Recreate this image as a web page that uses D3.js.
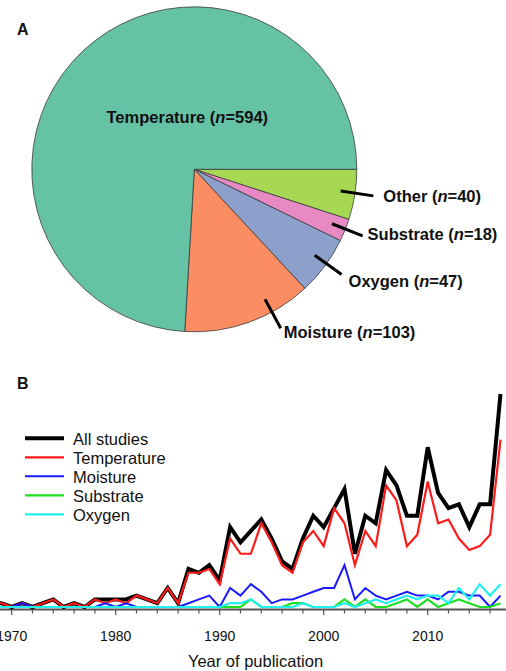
<!DOCTYPE html>
<html>
<head>
<meta charset="utf-8">
<script src="https://cdn.jsdelivr.net/npm/d3@7"></script>
<style>
  body { margin: 0; background: #fff; }
  text { font-family: Arial, "Liberation Sans", sans-serif; fill: #111; }
</style>
</head>
<body>
<svg id="chart" width="506" height="671"></svg>
<script>
// panel A data, clockwise from 3 o'clock
var pieNames = ["Other", "Substrate", "Oxygen", "Moisture", "Temperature"];
var pieCounts = [40, 18, 47, 103, 594];
var pieColors = ["#a6d854", "#e78ac3", "#8da0cb", "#fc8d62", "#66c2a5"];

// panel B data
var years = [1968, 1969, 1970, 1971, 1972, 1973, 1974, 1975, 1976, 1977,
             1978, 1979, 1980, 1981, 1982, 1983, 1984, 1985, 1986, 1987,
             1988, 1989, 1990, 1991, 1992, 1993, 1994, 1995, 1996, 1997,
             1998, 1999, 2000, 2001, 2002, 2003, 2004, 2005, 2006, 2007,
             2008, 2009, 2010, 2011, 2012, 2013, 2014, 2015, 2016, 2017];
var allStudies  = [1, 1, 0, 1, 0, 1, 2, 0, 1, 0, 2, 2, 2, 2, 3, 2, 1, 5, 1, 10,
                   9, 11, 7, 21, 17, 20, 23, 18, 12, 10, 18, 24, 21, 26, 31, 14, 24, 22, 36, 32,
                   24, 24, 42, 30, 26, 27, 21, 27, 27, 56];
var temperature = [1, 1, 0, 1, 0, 1, 2, 0, 1, 0, 2, 1, 2, 1, 3, 2, 1, 5, 1, 9,
                   9, 10, 6, 18, 14, 14, 22, 17, 11, 9, 17, 20, 16, 26, 22, 11, 20, 16, 32, 28,
                   16, 19, 33, 22, 23, 18, 15, 16, 19, 44];
var moisture    = [0, 0, 0, 1, 0, 0, 0, 0, 0, 0, 0, 1, 0, 1, 0, 0, 0, 0, 0, 1,
                   2, 3, 0, 5, 3, 6, 4, 1, 2, 2, 3, 4, 5, 5, 11, 2, 5, 3, 2, 3,
                   4, 3, 3, 2, 4, 4, 3, 3, 0, 3];
var substrate   = [0, 0, 0, 0, 0, 0, 0, 0, 0, 0, 0, 0, 0, 0, 0, 0, 0, 0, 0, 0,
                   0, 0, 0, 0, 0, 2, 0, 0, 0, 1, 1, 0, 0, 0, 2, 0, 2, 0, 0, 1,
                   2, 0, 2, 0, 1, 2, 1, 0, 0, 1];
var oxygen      = [0, 0, 0, 0, 0, 0, 0, 0, 0, 0, 0, 0, 0, 0, 0, 0, 0, 0, 0, 0,
                   0, 0, 0, 1, 1, 2, 0, 0, 0, 0, 1, 0, 0, 0, 1, 0, 1, 2, 1, 2,
                   3, 2, 3, 3, 1, 5, 2, 6, 3, 6];
var seriesNames = ["All studies", "Temperature", "Moisture", "Substrate", "Oxygen"];
var seriesColors = ["#000000", "#ff1a1a", "#1a1aff", "#1ee01e", "#22f0f0"];
var seriesWidths = [4, 2.2, 2, 2.2, 2.2];
var tickYears = [1970, 1980, 1990, 2000, 2010];

var svg = d3.select("#chart");
svg.append("rect").attr("width", 506).attr("height", 671).attr("fill", "#fff");

// ---------- panel A: pie ----------
var cx = 194.3, cy = 169.3, radius = 162.5;
var pie = d3.pie().sort(null)
  .startAngle(Math.PI / 2)
  .endAngle(Math.PI / 2 + 2 * Math.PI);
var arc = d3.arc().innerRadius(0).outerRadius(radius);
var slices = pie(pieCounts);

var gPie = svg.append("g").attr("transform", "translate(" + cx + "," + cy + ")");
gPie.selectAll("path")
  .data(slices)
  .enter().append("path")
  .attr("d", arc)
  .attr("fill", function(d, i) { return pieColors[i]; })
  .attr("stroke", "#3a3a3a")
  .attr("stroke-width", 0.8);

svg.append("text")
  .attr("x", 17).attr("y", 35)
  .style("font-size", "16px").style("font-weight", "bold")
  .text("A");

function pieLabel(sel, name, n) {
  sel.style("font-size", "16.5px").style("font-weight", "bold");
  sel.append("tspan").text(name + " (");
  sel.append("tspan").style("font-style", "italic").text("n");
  sel.append("tspan").text("=" + n + ")");
}

// temperature label sits inside its slice
gPie.append("text")
  .attr("x", -7).attr("y", -46)
  .attr("text-anchor", "middle")
  .call(pieLabel, pieNames[4], pieCounts[4]);

// leader lines for the small slices
var leaderFrac = [0.47, 0.45, 0.45, 0.31];
var labelDx = [10, 5, 7, 3];
var labelDy = [6, 4, 13, 10];
function polar(a, r) { return [r * Math.sin(a), -r * Math.cos(a)]; }

slices.slice(0, 4).forEach(function(d, i) {
  var a = d.startAngle + leaderFrac[i] * (d.endAngle - d.startAngle);
  var p0 = polar(a, 148), p1 = polar(a, 181);
  gPie.append("line")
    .attr("x1", p0[0]).attr("y1", p0[1])
    .attr("x2", p1[0]).attr("y2", p1[1])
    .attr("stroke", "#000").attr("stroke-width", 3);
  gPie.append("text")
    .attr("x", p1[0] + labelDx[i]).attr("y", p1[1] + labelDy[i])
    .call(pieLabel, pieNames[i], pieCounts[i]);
});

// ---------- panel B: lines ----------
svg.append("text")
  .attr("x", 17).attr("y", 389)
  .style("font-size", "16px").style("font-weight", "bold")
  .text("B");

var x = d3.scaleLinear().domain([1970, 2010]).range([11.7, 427.7]);
var y = d3.scaleLinear().domain([0, 56]).range([607, 394]);
var axisY = 609.5;

var gAxis = svg.append("g");
gAxis.append("line")
  .attr("x1", 0).attr("x2", 506)
  .attr("y1", axisY).attr("y2", axisY)
  .attr("stroke", "#555").attr("stroke-width", 2);

var minorTicks = years.filter(function(yr) { return yr % 2 === 0; });
gAxis.selectAll(".tick")
  .data(minorTicks)
  .enter().append("line")
  .attr("class", "tick")
  .attr("x1", function(d) { return x(d); })
  .attr("x2", function(d) { return x(d); })
  .attr("y1", axisY)
  .attr("y2", function(d) { return d % 10 === 0 ? axisY + 5.5 : axisY + 4; })
  .attr("stroke", "#555").attr("stroke-width", 1.2);

gAxis.selectAll(".lbl")
  .data(tickYears)
  .enter().append("text")
  .attr("class", "lbl")
  .attr("x", function(d) { return x(d); })
  .attr("y", 641)
  .attr("text-anchor", "middle")
  .style("font-size", "14px")
  .text(function(d) { return d; });

svg.append("text")
  .attr("x", 255.5).attr("y", 666.5)
  .attr("text-anchor", "middle")
  .style("font-size", "16.5px")
  .text("Year of publication");

var seriesData = [allStudies, temperature, moisture, substrate, oxygen];
var line = d3.line()
  .x(function(d, i) { return x(years[i]); })
  .y(function(d) { return y(d); });

var gLines = svg.append("g");
seriesData.forEach(function(vals, k) {
  gLines.append("path")
    .attr("d", line(vals))
    .attr("fill", "none")
    .attr("stroke", seriesColors[k])
    .attr("stroke-width", seriesWidths[k])
    .attr("stroke-linejoin", "miter");
});

// legend
var gLeg = svg.append("g");
seriesNames.forEach(function(name, k) {
  var ly = 438.3 + k * 19;
  gLeg.append("line")
    .attr("x1", 25).attr("x2", 64)
    .attr("y1", ly).attr("y2", ly)
    .attr("stroke", seriesColors[k])
    .attr("stroke-width", seriesWidths[k]);
  gLeg.append("text")
    .attr("x", 73).attr("y", ly + 6.5)
    .style("font-size", "16.5px")
    .text(name);
});
</script>
</body>
</html>
